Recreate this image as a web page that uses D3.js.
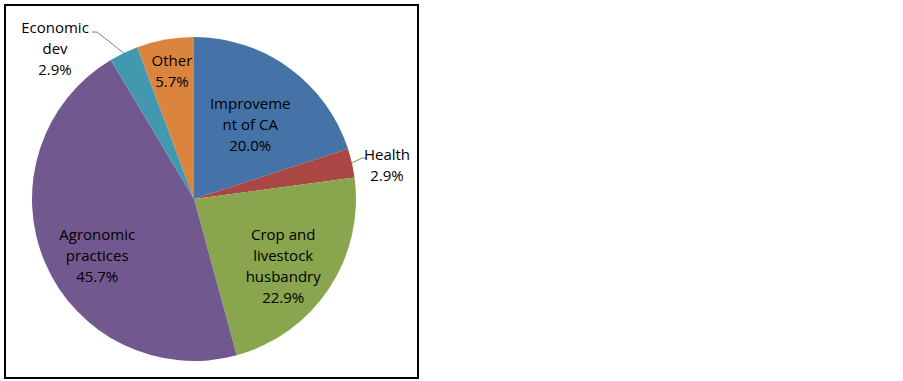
<!DOCTYPE html>
<html>
<head>
<meta charset="utf-8">
<script src="https://cdn.jsdelivr.net/npm/d3@7"></script>
<style>
  body { margin: 0; background: #fff; }
  text { font-family: "Open Sans", "Noto Sans", sans-serif; font-size: 15px; fill: #000; }
</style>
</head>
<body>
<div id="chart"></div>
<script>
// data, clockwise from 12 o'clock
var categories = ["Improvement of CA", "Health", "Crop and livestock husbandry", "Agronomic practices", "Economic dev", "Other"]
var values = [20.0, 2.9, 22.9, 45.7, 2.9, 5.7]
var labelLines = [
    ["Improveme", "nt of CA"],
    ["Health"],
    ["Crop and", "livestock", "husbandry"],
    ["Agronomic", "practices"],
    ["Economic", "dev"],
    ["Other"]
]
var colors = ["#4572A7", "#AA4643", "#89A54E", "#71588F", "#4198AF", "#DB843D"]

var width = 903, height = 381
var cx = 194, cy = 199, radius = 162

var svg = d3.select("#chart").append("svg")
    .attr("width", width).attr("height", height)

// chart frame
svg.append("rect")
    .attr("x", 5).attr("y", 5)
    .attr("width", 413).attr("height", 373)
    .style("fill", "none").style("stroke", "#000").style("stroke-width", 2)

var data = categories.map(function(c, i){ return {name: c, value: values[i], lines: labelLines[i], color: colors[i]} })

var pie = d3.pie().sort(null).value(function(d){ return d.value })
var arcs = pie(data)

var arc = d3.arc().innerRadius(0).outerRadius(radius)

var g = svg.append("g").attr("transform", "translate(" + cx + "," + cy + ")")

g.selectAll("path.slice")
    .data(arcs)
    .enter().append("path")
    .attr("class", "slice")
    .attr("d", arc)
    .style("fill", function(d){ return d.data.color })

// label placement (Excel "best fit"): radius factor + nudge, some outside with leader
var labelPlace = {
    "Improvement of CA": {r: 0.57, dx: 2, dy: 0},
    "Health": {outside: true, x: 193, y: -34, lx: 168, ly: -41},
    "Crop and livestock husbandry": {r: 0.69, dx: -4, dy: 5},
    "Agronomic practices": {r: 0.69, dx: 6, dy: 13},
    "Economic dev": {outside: true, x: -139, y: -150, lx: -97, ly: -167},
    "Other": {r: 0.8, dx: 1, dy: 0}
}

var lineH = 21

arcs.forEach(function(d){
    var p = labelPlace[d.data.name]
    var lx, ly
    if (p.outside) {
        lx = p.x; ly = p.y
        // leader line from slice edge
        var mid = (d.startAngle + d.endAngle) / 2
        var ex = Math.sin(mid) * radius, ey = -Math.cos(mid) * radius
        var endX = p.lx, endY = p.ly
        var tailX = endX + (endX > 0 ? 4 : -5)
        g.append("polyline")
            .attr("points", [[ex, ey], [endX, endY], [tailX, endY]].map(function(q){ return q.join(",") }).join(" "))
            .style("fill", "none").style("stroke", "#7f7f7f").style("stroke-width", 1)
    } else {
        var c = d3.arc().innerRadius(0).outerRadius(radius * p.r * 2).centroid(d)
        lx = c[0] + p.dx; ly = c[1] + p.dy
    }
    var lines = d.data.lines.concat([d3.format(".1f")(d.data.value) + "%"])
    var t = g.append("text")
        .attr("text-anchor", "middle")
        .attr("x", lx).attr("y", ly - (lines.length - 1) * lineH / 2)
    lines.forEach(function(s, i){
        t.append("tspan").attr("x", lx).attr("dy", i == 0 ? "0.35em" : lineH).text(s)
    })
})
</script>
</body>
</html>
